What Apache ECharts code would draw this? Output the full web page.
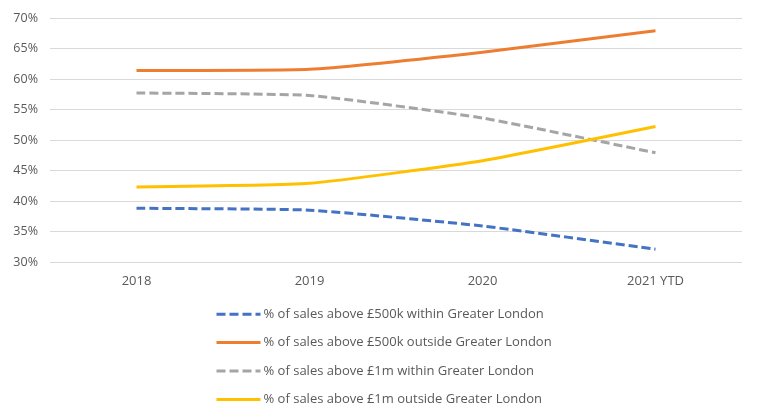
<!DOCTYPE html>
<html><head><meta charset="utf-8">
<script src="https://cdn.jsdelivr.net/npm/echarts@6/dist/echarts.min.js"></script>
<style>html,body{margin:0;padding:0;background:#fff}#c{width:761px;height:420px}</style>
</head><body><div id="c"></div>
<script>
const categories = ['2018', '2019', '2020', '2021 YTD'];
const seriesNames = [
  '% of sales above £500k within Greater London',
  '% of sales above £500k outside Greater London',
  '% of sales above £1m within Greater London',
  '% of sales above £1m outside Greater London'
];
const within500k = [38.8, 38.5, 35.9, 32.1];
const outside500k = [61.4, 61.6, 64.4, 67.9];
const within1m = [57.7, 57.3, 53.6, 47.9];
const outside1m = [42.3, 42.9, 46.6, 52.2];
const yTicks = {min: 30, max: 70, interval: 5};

const colors = ['#4472C4', '#ED7D31', '#A5A5A5', '#FFC000'];
const dashed = [true, false, true, false];
const values = [within500k, outside500k, within1m, outside1m];
const font = '"Open Sans", "Liberation Sans", sans-serif';

const chart = echarts.init(document.getElementById('c'), null, {renderer: 'canvas'});
chart.setOption({
  animation: false,
  backgroundColor: '#fff',
  grid: {left: 50, right: 19, top: 18, bottom: 158},
  xAxis: {
    type: 'category', data: categories, boundaryGap: true,
    axisLine: {show: false}, axisTick: {show: false},
    axisLabel: {color: '#595959', fontSize: 13, fontFamily: font, margin: 13}
  },
  yAxis: {
    type: 'value', min: yTicks.min, max: yTicks.max, interval: yTicks.interval,
    axisLine: {show: false}, axisTick: {show: false},
    axisLabel: {color: '#595959', fontSize: 12.5, fontFamily: font, margin: 12, formatter: v => v + '%'},
    splitLine: {lineStyle: {color: '#d9d9d9', width: 1}}
  },
  legend: {
    orient: 'vertical', left: 210, top: 302, itemGap: 14, itemWidth: 44, itemHeight: 18,
    itemStyle: {opacity: 0},
    lineStyle: {width: 3},
    textStyle: {color: '#595959', fontSize: 13, fontFamily: font, padding: [0,0,0,-2]},
    data: seriesNames
  },
  series: seriesNames.map((n, i) => ({
    name: n, type: 'line', data: values[i], smooth: 0.15,
    symbol: 'none', showSymbol: false,
    color: colors[i],
    lineStyle: {color: colors[i], width: 3, type: dashed[i] ? [9, 4] : 'solid'}
  }))
});
</script></body></html>
